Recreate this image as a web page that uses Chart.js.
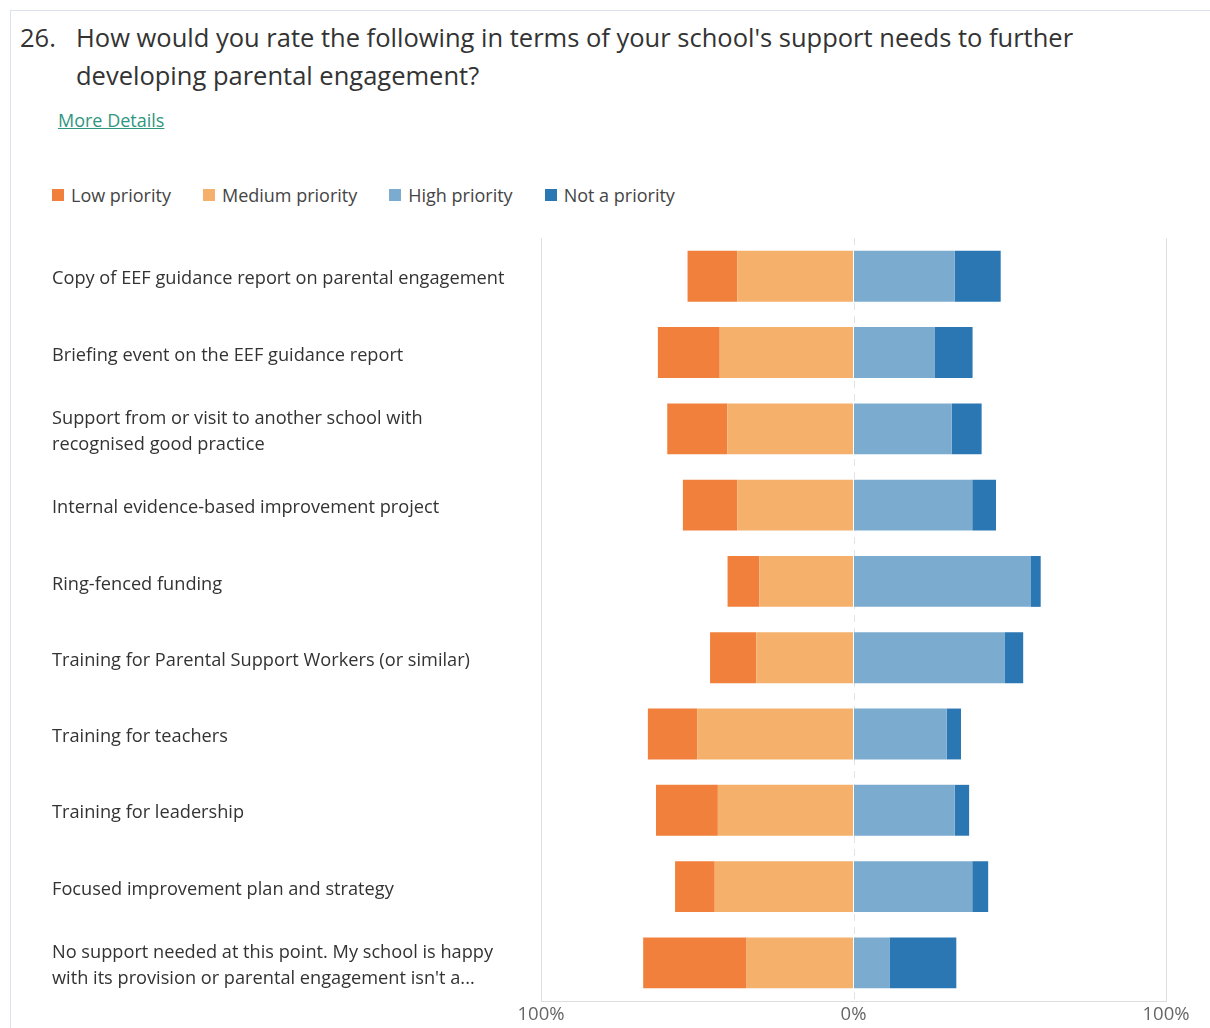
<!DOCTYPE html>
<html>
<head>
<meta charset="utf-8">
<script src="https://cdn.jsdelivr.net/npm/chart.js@4.4.1/dist/chart.umd.min.js"></script>
<style>
  html, body { margin: 0; padding: 0; background: #fff; overflow: hidden; }
  body { width: 1210px; height: 1028px; position: relative; font-family: "Open Sans", sans-serif; }
  .card { position: absolute; left: 10px; top: 10px; width: 1400px; height: 1200px; border: 1px solid #dbe3ee; box-sizing: border-box; }
  .qnum { position: absolute; left: 20px; top: 18px; font-size: 25.5px; line-height: 38px; color: #333; }
  .qtext { position: absolute; left: 76px; top: 18px; width: 1110px; font-size: 25.5px; line-height: 38px; color: #333; }
  .more { position: absolute; left: 58px; top: 107px; font-size: 18px; color: #2f9680; text-decoration: underline; line-height: 26px; }
  #legend { position: absolute; left: 52px; top: 182px; display: flex; font-size: 18px; color: #444; line-height: 26px; }
  #legend .item { display: flex; align-items: center; margin-right: 32px; }
  #legend .box { width: 12px; height: 12px; margin-right: 7px; }
  #wrap { position: absolute; left: 0; top: 210px; width: 1210px; height: 818px; }
</style>
</head>
<body>
<div class="card"></div>
<div class="qnum">26.</div>
<div class="qtext">How would you rate the following in terms of your school's support needs to further developing parental engagement?</div>
<div class="more">More Details</div>
<div id="legend"></div>
<div id="wrap"><canvas id="likert"></canvas></div>

<script>
// answer options, one row per support type
const categories = [
  'Copy of EEF guidance report on parental engagement',
  'Briefing event on the EEF guidance report',
  ['Support from or visit to another school with', 'recognised good practice'],
  'Internal evidence-based improvement project',
  'Ring-fenced funding',
  'Training for Parental Support Workers (or similar)',
  'Training for teachers',
  'Training for leadership',
  'Focused improvement plan and strategy',
  ['No support needed at this point. My school is happy', "with its provision or parental engagement isn't a..."]
];

// share of responses in percent
const lowPriority    = [15.9, 19.8, 19.2, 17.4, 10.2, 14.8, 15.8, 19.8, 12.7, 33.1];
const mediumPriority = [37.2, 42.8, 40.4, 37.2, 30.1, 31.1, 50.0, 43.4, 44.4, 34.2];
const highPriority   = [32.4, 25.9, 31.4, 38.0, 56.8, 48.3, 29.8, 32.4, 38.0, 11.5];
const notPriority    = [14.7, 12.2,  9.6,  7.6,  3.1,  6.0,  4.6,  4.6,  5.1, 21.4];

const xTicks = [-100, 0, 100];

const colors = {
  low: '#f0803c',
  medium: '#f5b06c',
  high: '#7babcf',
  not: '#2a77b3'
};

// low & medium go left of zero; medium is stacked first so it sits next to the axis
const datasets = [
  { label: 'Low priority', data: lowPriority.map(v => -v), backgroundColor: colors.low, order: 2 },
  { label: 'Medium priority', data: mediumPriority.map(v => -v), backgroundColor: colors.medium, order: 1 },
  { label: 'High priority', data: highPriority, backgroundColor: colors.high, order: 3 },
  { label: 'Not a priority', data: notPriority, backgroundColor: colors.not, order: 4 }
];

// dashed line at 0%
const zeroLine = {
  id: 'zeroLine',
  beforeDatasetsDraw(chart) {
    const { ctx, chartArea, scales } = chart;
    const x = Math.round(scales.x.getPixelForValue(0)) + 0.5;
    ctx.save();
    ctx.strokeStyle = '#e3e3e3';
    ctx.lineWidth = 1;
    ctx.setLineDash([7, 6]);
    ctx.beginPath();
    ctx.moveTo(x, chartArea.top);
    ctx.lineTo(x, chartArea.bottom);
    ctx.stroke();
    ctx.restore();
  }
};

const chart = new Chart(document.getElementById('likert'), {
  type: 'bar',
  data: { labels: categories, datasets },
  plugins: [zeroLine],
  options: {
    indexAxis: 'y',
    responsive: true,
    maintainAspectRatio: false,
    animation: false,
    layout: { padding: { left: 52, right: 44, top: 28, bottom: 0 } },
    datasets: { bar: { categoryPercentage: 1, barPercentage: 0.667, borderWidth: 0 } },
    plugins: {
      legend: { display: false },
      tooltip: { enabled: false }
    },
    scales: {
      x: {
        stacked: true,
        min: -100,
        max: 100,
        afterBuildTicks: scale => { scale.ticks = xTicks.map(v => ({ value: v })); },
        ticks: {
          padding: 3,
          color: '#666',
          font: { family: 'Open Sans', size: 18.5 },
          callback: v => Math.abs(v) + '%'
        },
        grid: {
          drawTicks: false,
          color: ctx => ctx.tick && ctx.tick.value === 0 ? 'rgba(0,0,0,0)' : '#dedede'
        },
        border: { display: true, color: '#dedede' },
        afterFit: scale => { scale.height = 27; }
      },
      y: {
        stacked: true,
        grid: { display: false },
        border: { display: false },
        ticks: {
          crossAlign: 'far',
          labelOffset: 3,
          color: '#333',
          font: { family: 'Open Sans', size: 18.2, lineHeight: 1.38 }
        },
        afterFit: scale => { scale.width = 541 - 52; }
      }
    }
  }
});

// legend in label order
const legendEl = document.getElementById('legend');
chart.data.datasets.forEach(ds => {
  const item = document.createElement('div');
  item.className = 'item';
  const box = document.createElement('span');
  box.className = 'box';
  box.style.background = ds.backgroundColor;
  const txt = document.createElement('span');
  txt.textContent = ds.label;
  item.appendChild(box);
  item.appendChild(txt);
  legendEl.appendChild(item);
});
</script>
</body>
</html>
